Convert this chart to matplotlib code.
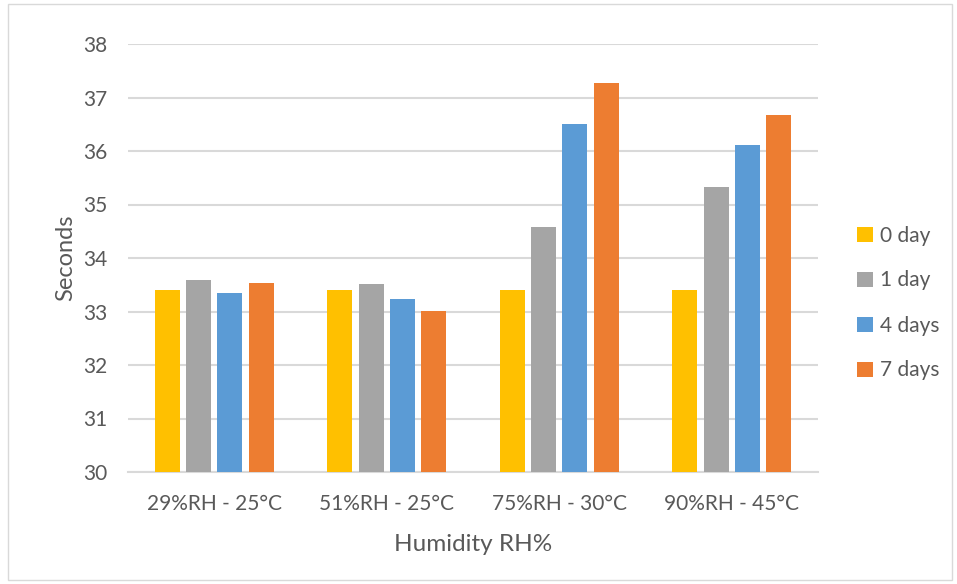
import matplotlib.pyplot as plt
import numpy as np
from matplotlib.patches import Rectangle

plt.rcParams['font.family'] = ['Lato', 'DejaVu Sans']

categories = ["29%RH - 25°C", "51%RH - 25°C", "75%RH - 30°C", "90%RH - 45°C"]
series_names = ["0 day", "1 day", "4 days", "7 days"]
day0 = [33.40, 33.40, 33.40, 33.40]
day1 = [33.59, 33.51, 34.58, 35.33]
day4 = [33.35, 33.23, 36.50, 36.12]
day7 = [33.53, 33.01, 37.28, 36.67]
colors = ["#FFC000", "#A5A5A5", "#5B9BD5", "#ED7D31"]

text_color = "#595959"
grid_color = "#D9D9D9"

fig = plt.figure(figsize=(9.57, 5.84), dpi=100)
ax = fig.add_axes([128 / 957, 1 - 472 / 584, 690 / 957, 428 / 584])

x = np.arange(len(categories))
width = 0.145
step = 0.182
for i, (vals, name, c) in enumerate(zip([day0, day1, day4, day7], series_names, colors)):
    ax.bar(x + (i - 1.5) * step, np.array(vals) - 30, bottom=30, width=width,
           color=c, label=name, zorder=3)

ax.set_xlim(-0.5, len(categories) - 0.5)
ax.set_ylim(30, 38)
ax.set_yticks(range(30, 39))
ax.set_xticks(x)
ax.set_xticklabels(categories)
ax.yaxis.grid(True, color=grid_color, linewidth=1.5, zorder=0)
ax.set_axisbelow(True)
for s in ["top", "right", "left"]:
    ax.spines[s].set_visible(False)
ax.spines["bottom"].set_color(grid_color)
ax.spines["bottom"].set_linewidth(1.5)
ax.tick_params(axis="both", length=0, labelsize=15, colors=text_color)
ax.tick_params(axis="y", pad=15)
ax.tick_params(axis="x", pad=16)

ax.set_ylabel("Seconds", fontsize=17, color=text_color, labelpad=5)
ax.set_xlabel("Humidity RH%", fontsize=17.5, color=text_color, labelpad=14)

leg = ax.legend(loc="center left", bbox_to_anchor=(857 / 957, 1 - 303 / 584),
                bbox_transform=fig.transFigure, frameon=False, borderaxespad=0,
                borderpad=0, fontsize=15, handlelength=0.75, handleheight=0.75,
                handletextpad=0.35, labelspacing=1.2, labelcolor=text_color)

fig.patches.append(Rectangle((8 / 957, 4 / 584), 944 / 957, 576 / 584,
                             transform=fig.transFigure, fill=False,
                             edgecolor="#D9D9D9", linewidth=1))

fig.savefig("out.png", dpi=100)
